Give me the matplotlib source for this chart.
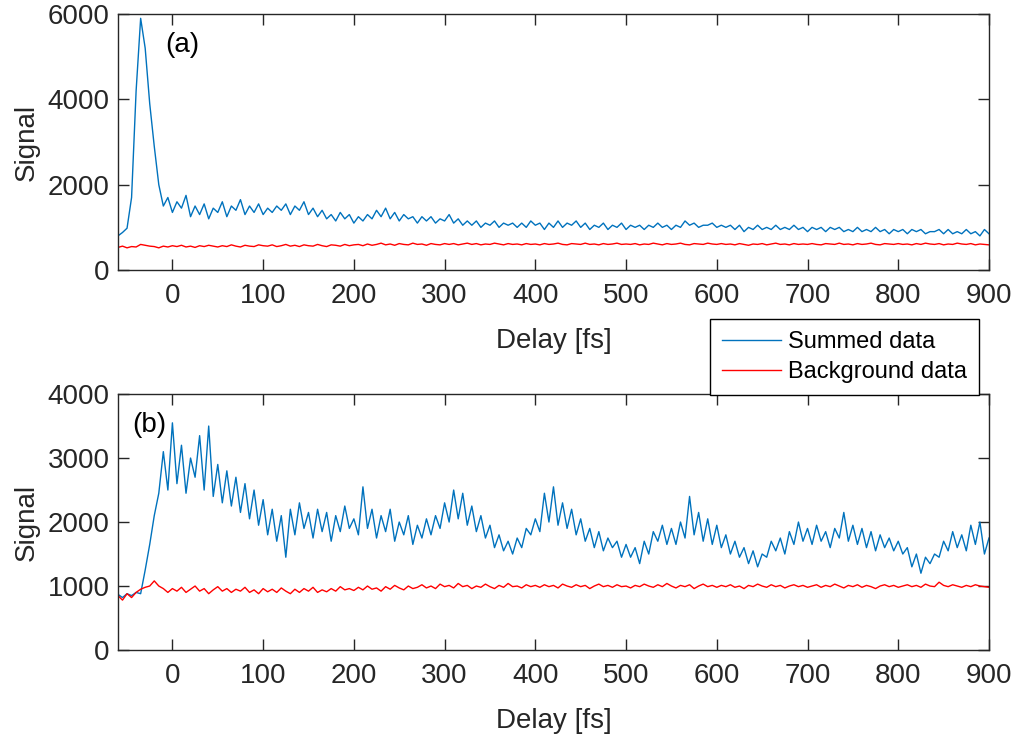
"""
Pump-probe delay scans: summed signal vs. background, two panels (a) and (b).
"""

import numpy as np
import matplotlib
matplotlib.use("Agg")
import matplotlib.pyplot as plt

plt.rcParams["font.family"] = ["Liberation Sans", "DejaVu Sans"]

BLUE = "#0072BD"
RED = "#FF0000"
AXIS_COLOR = "#262626"

# Delay grid, fs (5 fs step)
DELAY = np.arange(-60, 901, 5)

# Panel (a)
SUMMED_A = [
    800, 880, 980, 1700, 4200, 5900, 5200, 3900, 2900, 2000, 1500, 1700, 1350,
    1600, 1450, 1750, 1250, 1500, 1300, 1550, 1200, 1450, 1350, 1600, 1250, 1500, 1400, 1650, 1300, 1500, 1350, 1550, 1300,
    1450, 1350, 1500, 1400, 1550, 1300, 1500, 1400, 1600, 1300, 1450, 1250, 1400, 1200, 1300, 1150, 1350, 1200, 1300, 1100,
    1250, 1150, 1300, 1200, 1400, 1250, 1450, 1200, 1350, 1150, 1300, 1200, 1250, 1100, 1250, 1150, 1250, 1100, 1200, 1150,
    1300, 1100, 1200, 1050, 1150, 1050, 1150, 1000, 1100, 1050, 1150, 1000, 1100, 1050, 1100, 1000, 1100, 1000, 1150, 1050,
    1100, 950, 1100, 1000, 1150, 1000, 1100, 1050, 1150, 1000, 1100, 950, 1050, 1000, 1100, 950, 1050, 1000, 1100, 950,
    1050, 1000, 1050, 950, 1050, 1000, 1100, 1000, 1050, 950, 1050, 1000, 1150, 1050, 1100, 1000, 1050, 1050, 1100, 1000,
    1050, 1000, 1050, 950, 1050, 900, 1000, 950, 1050, 950, 1000, 950, 1050, 950, 1000, 950, 1050, 950, 1000, 900,
    1000, 950, 1000, 900, 1000, 950, 1000, 900, 950, 900, 1000, 900, 950, 900, 1000, 900, 950, 850, 950, 900,
    950, 850, 950, 900, 950, 850, 900, 900, 950, 850, 950, 850, 900, 850, 950, 850, 900, 800, 950, 850,
]
BACKGROUND_A = [
    530, 560, 520, 550, 540, 600, 580, 560, 550, 520, 560, 540, 570,
    550, 580, 540, 560, 530, 570, 550, 580, 560, 540, 570, 550, 590, 560, 540, 580, 560, 550, 590, 570,
    560, 590, 550, 570, 600, 560, 580, 550, 590, 570, 560, 600, 570, 550, 590, 580, 560, 600, 570, 590,
    600, 570, 610, 580, 600, 630, 590, 610, 580, 620, 600, 590, 630, 600, 610, 580, 620, 600, 590, 620,
    600, 620, 590, 610, 630, 600, 620, 590, 610, 600, 630, 610, 590, 620, 600, 610, 590, 620, 600, 610,
    590, 620, 600, 610, 630, 600, 590, 620, 610, 600, 630, 600, 610, 590, 620, 600, 610, 630, 600, 610,
    600, 620, 590, 610, 600, 630, 610, 590, 620, 600, 610, 630, 600, 590, 620, 610, 600, 630, 610, 600,
    620, 600, 610, 590, 620, 600, 580, 610, 600, 620, 590, 610, 630, 600, 610, 590, 620, 600, 610, 600,
    620, 600, 590, 620, 610, 600, 630, 600, 610, 590, 620, 600, 610, 630, 600, 590, 620, 610, 600, 620,
    600, 610, 590, 620, 600, 630, 610, 600, 620, 590, 610, 600, 630, 610, 600, 620, 590, 610, 600, 590,
]

# Panel (b)
SUMMED_B = [
    870, 820, 880, 850, 900, 880, 1250, 1650, 2100, 2450, 3100, 2500, 3550,
    2600, 3200, 2450, 3000, 2700, 3350, 2500, 3500, 2400, 2900, 2300, 2800, 2250, 2700, 2150, 2600, 2050, 2500, 1950, 2350,
    1800, 2200, 1700, 2100, 1450, 2200, 1800, 2300, 1900, 2150, 1750, 2200, 1850, 2150, 1700, 2100, 1850, 2250, 1900, 2050,
    1800, 2550, 1900, 2200, 1750, 2100, 1850, 2200, 1700, 2000, 1800, 2100, 1650, 1950, 1750, 2050, 1800, 2100, 1900, 2300,
    2000, 2500, 2050, 2450, 1950, 2250, 1850, 2100, 1750, 1950, 1600, 1800, 1550, 1700, 1500, 1750, 1600, 1900, 1800, 2050,
    1850, 2450, 2000, 2550, 1950, 2300, 1900, 2200, 1800, 2050, 1700, 1900, 1600, 1850, 1550, 1750, 1600, 1700, 1450, 1650,
    1450, 1600, 1350, 1700, 1500, 1850, 1700, 1950, 1650, 1900, 1650, 2000, 1750, 2400, 1800, 2150, 1700, 2050, 1650, 1950,
    1600, 1800, 1500, 1700, 1450, 1600, 1350, 1550, 1300, 1500, 1450, 1700, 1550, 1750, 1500, 1850, 1650, 2000, 1700, 1900,
    1650, 1950, 1700, 1850, 1600, 1900, 1750, 2150, 1700, 1950, 1650, 1900, 1600, 1850, 1550, 1800, 1600, 1750, 1550, 1700,
    1500, 1600, 1300, 1500, 1200, 1450, 1350, 1500, 1450, 1700, 1550, 1850, 1600, 1800, 1550, 1950, 1650, 2000, 1500, 1750,
]
BACKGROUND_B = [
    850, 780, 880, 820, 900, 950, 980, 1000, 1080, 1000, 960, 900, 960,
    920, 980, 900, 950, 1000, 920, 960, 880, 940, 990, 920, 960, 900, 950, 920, 980, 900, 940, 880, 960,
    910, 950, 900, 970, 920, 880, 950, 900, 960, 920, 980, 900, 940, 910, 960, 920, 990, 940, 960, 930,
    980, 940, 1000, 950, 970, 920, 990, 950, 1010, 970, 940, 1000, 960, 980, 1020, 970, 1000, 960, 1030, 990,
    1010, 970, 1040, 990, 1010, 960, 1000, 980, 1030, 990, 960, 1010, 980, 1040, 990, 1000, 970, 1020, 990, 1010,
    980, 1020, 990, 1010, 970, 1030, 1000, 980, 1020, 990, 1010, 960, 1000, 1030, 990, 1010, 980, 1020, 990, 1000,
    970, 1010, 990, 1030, 1000, 980, 1020, 990, 1040, 1000, 970, 1010, 990, 1020, 960, 1000, 1030, 990, 1010, 980,
    1010, 990, 1020, 980, 1000, 960, 1010, 990, 1030, 1000, 980, 1020, 990, 1010, 970, 1000, 1020, 990, 1010, 980,
    1000, 1020, 980, 1010, 990, 1030, 1000, 970, 1010, 990, 1020, 980, 1010, 990, 960, 1000, 1020, 990, 1010, 980,
    1000, 1020, 990, 1010, 980, 1030, 1000, 990, 1060, 1010, 990, 1020, 1000, 980, 1010, 990, 1020, 1000, 990, 980,
]

X_TICKS = [0, 100, 200, 300, 400, 500, 600, 700, 800, 900]
Y_TICKS_A = [0, 2000, 4000, 6000]
Y_TICKS_B = [0, 1000, 2000, 3000, 4000]


def _style_axes(ax, yticks, ylim):
    ax.set_xlim(-60, 900)
    ax.set_ylim(*ylim)
    ax.set_xticks(X_TICKS)
    ax.set_yticks(yticks)
    ax.tick_params(direction="in", length=8, width=1, top=True, right=True,
                   labelsize=20, colors=AXIS_COLOR)
    ax.tick_params(axis="x", pad=9)
    ax.tick_params(axis="y", pad=6)
    for spine in ax.spines.values():
        spine.set_color(AXIS_COLOR)
        spine.set_linewidth(1)
    ax.set_xlabel("Delay [fs]", fontsize=20, color=AXIS_COLOR, labelpad=14)
    ax.set_ylabel("Signal", fontsize=20, color=AXIS_COLOR, labelpad=6)


fig = plt.figure(figsize=(10.24, 7.40), dpi=100)
ax_a = fig.add_axes([0.1152, 0.6351, 0.8506, 0.3459])
ax_b = fig.add_axes([0.1152, 0.1216, 0.8506, 0.3459])

line_sum, = ax_a.plot(DELAY, SUMMED_A, color=BLUE, linewidth=1.0, label="Summed data")
line_bg, = ax_a.plot(DELAY, BACKGROUND_A, color=RED, linewidth=1.0, label="Background data")
ax_b.plot(DELAY, SUMMED_B, color=BLUE, linewidth=1.0)
ax_b.plot(DELAY, BACKGROUND_B, color=RED, linewidth=1.0)

_style_axes(ax_a, Y_TICKS_A, (0, 6000))
_style_axes(ax_b, Y_TICKS_B, (0, 4000))

ax_a.text(0.054, 0.88, "(a)", transform=ax_a.transAxes, fontsize=20,
          va="center", ha="left")
ax_b.text(0.016, 0.88, "(b)", transform=ax_b.transAxes, fontsize=20,
          va="center", ha="left")

leg = fig.legend(handles=[line_sum, line_bg], loc="upper left",
                 bbox_to_anchor=(0.6934, 0.5689), fontsize=17,
                 fancybox=False, framealpha=1, edgecolor="#000000",
                 handlelength=2.5, handletextpad=0.3, labelspacing=0.35,
                 borderpad=0.5, borderaxespad=0)
leg.get_frame().set_linewidth(1)

fig.savefig("out.png", dpi=100)
plt.close(fig)
